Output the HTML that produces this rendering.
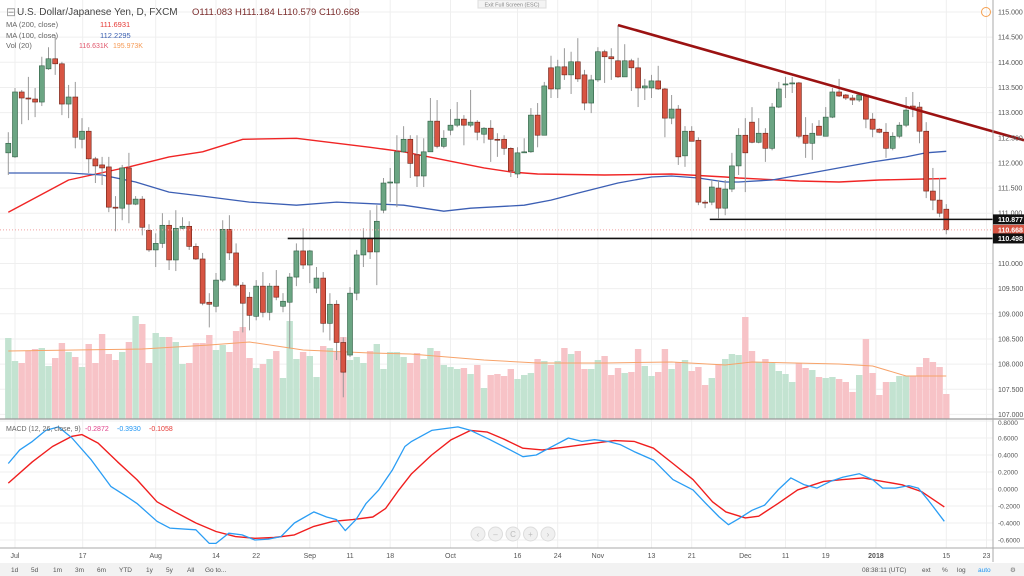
<!DOCTYPE html>
<html><head><meta charset="utf-8"><style>
html,body{margin:0;padding:0;background:#fff;width:1024px;height:576px;overflow:hidden}
svg{display:block;font-family:"Liberation Sans",sans-serif}
</style></head><body>
<svg id="chart" width="1024" height="576" viewBox="0 0 1024 576">
<rect x="0" y="0" width="1024" height="576" fill="#fff"/>
<g id="grid"></g>
<g id="vol"></g>
<g id="lines"></g>
<g id="candles"></g>
<g id="overlay"></g>
<g id="macd"></g>
<g id="axes"></g>
<g id="ui">
  <rect x="478" y="0" width="68" height="8" fill="#f4f4f4" stroke="#ddd"/>
  <text x="512" y="6.5" font-size="5.5" fill="#888" text-anchor="middle">Exit Full Screen (ESC)</text>
  <text x="6" y="16" font-size="12" fill="#999">⊟</text>
  <text x="17" y="15" font-size="10" fill="#444">U.S. Dollar/Japanese Yen, D, FXCM</text>
  <text x="192" y="15" font-size="9.5" fill="#7a2b2b">O111.083  H111.184  L110.579  C110.668</text>
  <text x="6" y="27" font-size="7.5" fill="#666">MA (200, close)</text>
  <text x="100" y="27" font-size="7.5" fill="#e53935">111.6931</text>
  <text x="6" y="38" font-size="7.5" fill="#666">MA (100, close)</text>
  <text x="100" y="38" font-size="7.5" fill="#3a5fb0">112.2295</text>
  <text x="6" y="48" font-size="7.5" fill="#666">Vol (20)</text>
  <text x="79" y="48" font-size="7" fill="#e0566b">116.631K</text>
  <text x="113" y="48" font-size="7" fill="#f59a55">195.973K</text>
  <text x="6" y="431" font-size="7" fill="#666">MACD (12, 26, close, 9)</text>
  <text x="85" y="431" font-size="7" fill="#e0408a">-0.2872</text>
  <text x="117" y="431" font-size="7" fill="#2196f3">-0.3930</text>
  <text x="149" y="431" font-size="7" fill="#e53935">-0.1058</text>
  <circle cx="986" cy="12" r="4.5" fill="none" stroke="#f5a050" stroke-width="1"/>
  <rect x="0" y="563" width="1024" height="13" fill="#f2f2f2"/>
</g>
</svg>
<script>
const opens=[112.20,112.12,113.41,113.29,113.27,113.21,113.87,114.07,113.97,113.17,113.31,112.47,112.63,112.08,111.96,111.92,111.12,111.10,111.90,111.18,111.28,110.66,110.27,110.40,110.76,110.07,110.70,110.74,110.34,110.09,109.23,109.15,109.67,110.68,110.21,109.57,109.33,108.95,109.55,109.03,109.55,109.15,109.23,109.73,110.25,109.97,109.51,109.71,108.81,109.19,108.43,108.18,109.41,110.17,110.50,110.23,111.06,111.60,111.60,112.22,112.47,112.16,111.74,112.22,112.83,112.33,112.65,112.75,112.87,112.75,112.81,112.57,112.69,112.47,112.47,112.29,111.78,112.20,112.22,112.95,112.55,113.89,113.47,113.91,113.75,114.01,113.75,113.19,113.65,114.21,114.11,114.03,113.71,114.03,113.89,113.49,113.49,113.63,113.47,112.89,113.07,112.14,112.63,112.45,111.22,111.22,111.50,111.10,111.48,111.94,112.55,112.81,112.41,112.59,112.29,113.11,113.55,113.57,113.59,112.55,112.39,112.73,112.53,112.91,113.41,113.35,113.29,113.25,113.35,112.87,112.67,112.61,112.29,112.53,112.75,113.13,113.11,112.63,111.44,111.26,111.08];
const highs=[112.61,113.49,113.45,113.71,113.49,114.11,114.30,114.54,114.01,113.55,113.61,112.89,112.71,112.12,112.12,112.12,111.34,111.96,112.20,111.34,111.34,110.78,110.60,111.00,110.86,111.06,110.92,110.84,110.40,110.21,109.41,109.81,110.86,110.96,110.40,109.63,109.43,109.67,109.83,109.61,109.87,109.41,109.81,110.40,110.70,110.27,109.93,109.83,109.41,109.27,108.53,109.53,110.27,110.70,111.06,111.16,111.70,111.90,112.55,112.73,112.55,112.55,112.49,113.29,113.25,112.65,113.07,113.21,112.95,113.45,112.85,112.71,112.85,112.59,112.55,112.31,112.31,112.49,113.09,113.19,113.61,114.13,114.05,114.28,114.21,114.48,113.85,113.75,114.30,114.25,114.28,114.74,114.36,114.07,114.09,113.67,113.75,113.93,113.49,113.35,113.15,112.73,112.73,112.51,111.26,111.66,111.66,111.66,112.20,112.69,112.89,113.11,112.89,112.69,113.19,113.61,113.71,113.71,113.61,112.91,112.79,112.85,113.11,113.49,113.67,113.37,113.35,113.37,113.37,112.99,112.69,112.79,112.61,112.81,113.31,113.41,113.21,112.81,111.90,111.70,111.18];
const lows=[111.76,112.10,112.77,112.85,112.91,113.13,113.85,113.75,112.95,112.89,112.29,112.29,111.80,111.60,111.56,111.02,110.64,110.86,110.80,111.16,110.56,110.23,109.93,110.31,109.87,109.85,110.68,110.27,110.07,109.17,108.73,109.03,109.63,110.07,109.53,108.63,108.67,108.87,108.93,108.87,109.27,109.03,108.31,109.55,109.89,109.61,109.41,108.63,108.47,108.08,107.34,108.14,109.27,109.93,110.09,109.57,111.00,111.22,111.12,112.20,111.70,111.52,111.52,112.22,112.29,112.29,112.55,112.71,112.35,112.71,112.45,112.39,112.02,112.12,112.16,111.72,111.70,112.20,112.20,112.31,112.55,113.29,113.29,113.65,113.37,113.61,113.05,112.99,113.61,113.59,113.65,113.69,113.71,113.43,113.11,113.25,113.29,113.45,112.51,112.77,111.96,111.92,112.43,111.16,111.10,111.16,110.90,110.96,111.42,111.76,111.42,112.39,112.39,112.02,112.25,113.09,113.29,113.39,112.49,112.10,112.06,112.55,112.53,112.89,113.31,113.25,113.15,113.21,112.69,112.51,112.59,112.10,112.25,112.49,112.71,112.91,112.39,111.30,111.06,110.92,110.58];
const closes=[112.39,113.41,113.29,113.27,113.21,113.93,114.07,113.97,113.17,113.31,112.51,112.63,112.08,111.94,111.90,111.12,111.10,111.90,111.18,111.28,110.72,110.27,110.40,110.76,110.07,110.70,110.74,110.34,110.09,109.21,109.19,109.67,110.68,110.21,109.57,109.21,108.97,109.55,109.03,109.55,109.33,109.25,109.73,110.25,109.97,110.25,109.71,108.81,109.19,108.43,107.84,109.41,110.17,110.50,110.23,110.84,111.60,111.62,112.22,112.47,111.99,111.74,112.22,112.83,112.33,112.49,112.75,112.87,112.75,112.81,112.61,112.69,112.47,112.45,112.29,111.84,112.20,112.22,112.95,112.55,113.53,113.47,113.91,113.75,114.01,113.67,113.19,113.65,114.21,114.11,114.07,113.71,114.03,113.89,113.49,113.53,113.63,113.47,112.89,113.07,112.12,112.63,112.43,111.22,111.20,111.52,111.10,111.48,111.94,112.55,112.20,112.41,112.59,112.29,113.11,113.47,113.57,113.59,112.53,112.39,112.59,112.55,112.91,113.41,113.33,113.29,113.25,113.35,112.87,112.67,112.61,112.29,112.53,112.75,113.05,113.09,112.63,111.44,111.26,111.00,110.67];
const volumes=[162,116,112,136,140,142,106,122,152,134,124,104,150,112,170,130,118,134,154,206,190,112,172,164,164,154,110,112,152,152,168,138,148,134,176,184,122,102,110,120,136,82,196,120,134,126,84,146,142,134,164,118,124,112,136,150,100,134,134,124,112,132,120,142,136,108,104,100,102,90,108,62,88,90,86,100,80,88,92,120,116,108,116,142,130,136,100,100,118,126,88,102,92,94,140,106,86,94,140,100,114,118,96,104,68,82,110,120,130,128,204,136,114,120,112,96,90,74,112,102,98,84,82,84,80,74,54,88,160,92,48,74,74,86,86,86,104,122,114,104,50];
const ma200Idx=[0,9,18,24,29,35,43,54,59,71,75,79,89,99,107,109,118,124,130,140];
const ma200Val=[111.02,111.66,111.92,112.12,112.22,112.47,112.49,112.31,112.22,111.90,111.82,111.78,111.76,111.78,111.72,111.70,111.64,111.62,111.66,111.69];
const ma100Idx=[0,9,14,19,24,29,36,43,49,59,65,69,77,81,85,91,96,99,103,107,109,114,119,124,129,134,137,140];
const ma100Val=[111.80,111.80,111.76,111.62,111.42,111.34,111.22,111.16,111.22,111.16,111.04,111.10,111.16,111.26,111.40,111.60,111.72,111.74,111.70,111.62,111.62,111.66,111.78,111.90,112.02,112.12,112.20,112.23];
const volMaIdx=[0,10,20,30,36,44,54,60,71,79,89,99,107,111,124,129,134,140];
const volMaVal=[136,138,140,148,154,138,132,130,118,112,112,114,108,114,110,106,86,86];
const macdIdx=[0,1.7,3.6,5.6,7.5,9.5,12.4,15.3,17.3,19.2,22.2,24.1,28.0,30.0,31.0,32.9,34.9,36.8,38.8,40.7,42.7,45.6,47.5,49.0,50.3,51.9,53.4,55.3,57.3,59.2,60.2,63.2,67.1,69.0,71.9,74.9,76.8,78.8,80.7,83.6,85.6,87.5,89.5,91.4,93.4,96.3,99.2,102.2,104.1,106.1,107.5,109.0,111.0,112.9,114.9,116.8,118.8,120.7,122.7,124.6,127.0,129.0,130.5,132.4,134.4,135.8,137.3,139.7];
const macdVal=[0.30,0.46,0.56,0.69,0.73,0.60,0.34,0.03,-0.07,-0.17,-0.38,-0.46,-0.48,-0.64,-0.64,-0.52,-0.54,-0.60,-0.59,-0.56,-0.40,-0.27,-0.33,-0.36,-0.49,-0.36,-0.17,-0.01,0.22,0.50,0.56,0.69,0.73,0.69,0.58,0.46,0.38,0.40,0.48,0.60,0.56,0.58,0.56,0.52,0.44,0.34,0.11,-0.01,-0.17,-0.33,-0.42,-0.35,-0.25,-0.19,-0.01,0.13,0.05,0.01,0.09,0.14,0.18,0.11,0.01,0.01,0.04,0.01,-0.13,-0.38];
const signalIdx=[0,3.6,6.6,9.5,11.0,13.4,16.3,19.2,22.2,25.1,28.0,31.0,33.9,36.8,39.7,42.7,45.6,48.5,51.4,54.4,56.3,58.3,60.2,63.2,66.1,69.0,71.5,73.9,76.8,79.7,82.7,86.6,90.5,93.4,96.3,99.2,102.2,105.1,107.1,110.0,112.0,114.9,117.8,121.7,124.6,127.6,130.5,133.4,136.3,139.7];
const signalVal=[0.07,0.32,0.50,0.62,0.64,0.54,0.32,0.11,-0.15,-0.28,-0.40,-0.50,-0.56,-0.58,-0.57,-0.54,-0.44,-0.38,-0.36,-0.33,-0.23,-0.01,0.18,0.40,0.58,0.69,0.67,0.59,0.48,0.46,0.49,0.53,0.57,0.56,0.48,0.30,0.11,-0.15,-0.27,-0.34,-0.32,-0.17,-0.01,0.09,0.11,0.13,0.09,0.05,-0.03,-0.21];
const dateLabels=["Jul","17","Aug","14","22","Sep","11","18","Oct","16","24","Nov","13","21","Dec","11","19","2018","15","23"];
const dateIdx=[1,11.1,22,31,37,45,51,57,66,76,82,88,96,102,110,116,122,129.5,140,146];
const priceTicks=[115,114.5,114,113.5,113,112.5,112,111.5,111,110.5,110,109.5,109,108.5,108,107.5,107];
const macdTicks=[0.8,0.6,0.4,0.2,0,-0.2,-0.4,-0.6];
const trendIdx=[91,151.6];
const trendPrice=[114.74,112.45];
const supportIdx=[105,42];
const supportPrice=[110.877,110.498];
const lastPrice=110.668;

const NS="http://www.w3.org/2000/svg";
const X0=8.3, STEP=6.7, AXIS_X=993;
const xOf=i=>X0+i*STEP;
const yP=p=>12+(115-p)*50.3;
const yV=v=>419-v/2;
const yM=v=>489-v*85;
function mk(parent,tag,attrs){const e=document.createElementNS(NS,tag);for(const k in attrs)e.setAttribute(k,attrs[k]);parent.appendChild(e);return e;}
const G=id=>document.getElementById(id);

const grid=G('grid');
priceTicks.forEach(p=>{const l=mk(grid,'line',{x1:0,x2:AXIS_X,y1:yP(p),y2:yP(p),stroke:'#efefef','stroke-width':1});

});
macdTicks.forEach(v=>{const l=mk(grid,'line',{x1:0,x2:AXIS_X,y1:yM(v),y2:yM(v),stroke:'#efefef','stroke-width':1});

});
dateIdx.forEach(i=>{const x=xOf(i);if(x>AXIS_X)return;const l=mk(grid,'line',{x1:x,x2:x,y1:0,y2:548,stroke:'#efefef','stroke-width':1});

});

const vg=G('vol');
volumes.forEach((v,i)=>{const up=closes[i]>=opens[i];const r=mk(vg,'rect',{x:xOf(i)-3.2,y:yV(v),width:6.4,height:419-yV(v),fill:up?'#c3e3d1':'#f7c3c7'});

});

function poly(parent,idx,val,yf,color,w,name){let d='';idx.forEach((i,k)=>{d+=(k?'L':'M')+xOf(i).toFixed(1)+' '+yf(val[k]).toFixed(1);});
const p=mk(parent,'path',{d:d,fill:'none',stroke:color,'stroke-width':w,'stroke-linejoin':'round'});

}
const lg=G('lines');
poly(lg,volMaIdx,volMaVal,yV,'#f7a36a',1,'volume-ma-line');
poly(lg,ma200Idx,ma200Val,yP,'#f02525',1.4,'ma200-line');
poly(lg,ma100Idx,ma100Val,yP,'#3c5fb4',1.3,'ma100-line');

const cg=G('candles');
opens.forEach((o,i)=>{const c=closes[i],up=c>=o,x=xOf(i);
const w=mk(cg,'line',{x1:x,x2:x,y1:yP(highs[i]),y2:yP(lows[i]),stroke:'#9a9a9a','stroke-width':1});


const top=yP(Math.max(o,c)),bot=yP(Math.min(o,c));
const b=mk(cg,'rect',{x:x-2.5,y:top,width:5,height:Math.max(1,bot-top),fill:up?'#6ba583':'#d75442',stroke:up?'#2e5e43':'#6b2318','stroke-width':0.6});

});

const og=G('overlay');
const dl=mk(og,'line',{x1:0,x2:AXIS_X,y1:yP(lastPrice),y2:yP(lastPrice),stroke:'#f0a0a0','stroke-width':1,'stroke-dasharray':'1,2'});


supportIdx.forEach((i,k)=>{const l=mk(og,'line',{x1:xOf(i)-2,x2:AXIS_X,y1:yP(supportPrice[k]),y2:yP(supportPrice[k]),stroke:'#111','stroke-width':1.6});

});
const tl=mk(og,'line',{x1:xOf(trendIdx[0]),y1:yP(trendPrice[0]),x2:xOf(trendIdx[1]),y2:yP(trendPrice[1]),stroke:'#9b1212','stroke-width':2.6});



const mg=G('macd');
const sep=mk(mg,'line',{x1:0,x2:1024,y1:419,y2:419,stroke:'#999','stroke-width':1.2});


poly(mg,signalIdx,signalVal,yM,'#f01e1e',1.4,'signal-line');
poly(mg,macdIdx,macdVal,yM,'#2a9df4',1.3,'macd-line');
['‹','–','C','+','›'].forEach((s,k)=>{const cx=478+k*17.5;
const c=mk(mg,'circle',{cx:cx,cy:534,r:7,fill:'#f0f0f0',stroke:'#ddd'});


const t=mk(mg,'text',{x:cx,y:537,'font-size':8,fill:'#bbb','text-anchor':'middle'});t.textContent=s;

});

const ag=G('axes');
const ax=mk(ag,'line',{x1:AXIS_X,x2:AXIS_X,y1:0,y2:562,stroke:'#aaa','stroke-width':1});


const bx=mk(ag,'line',{x1:0,x2:1024,y1:548,y2:548,stroke:'#aaa','stroke-width':1});


priceTicks.forEach(p=>{const t=mk(ag,'text',{x:998,y:yP(p)+2.5,'font-size':7,fill:'#555'});t.textContent=p.toFixed(3);

});
macdTicks.forEach(v=>{const y=Math.max(yM(v)+2.5,425);const t=mk(ag,'text',{x:998,y:y,'font-size':6.5,fill:'#555'});t.textContent=v.toFixed(4);

});
dateLabels.forEach((d,k)=>{const t=mk(ag,'text',{x:xOf(dateIdx[k]),y:558,'font-size':7,fill:'#555','text-anchor':'middle','font-weight':d==='2018'?'bold':'normal'});t.textContent=d;

});
function tag(p,bg,name){const y=yP(p);const r=mk(ag,'rect',{x:AXIS_X,y:y-5,width:31,height:10,fill:bg});


const t=mk(ag,'text',{x:998,y:y+2.5,'font-size':7,fill:'#fff','font-weight':'bold'});t.textContent=p.toFixed(3);

}
tag(supportPrice[0],'#111','support-price-tag');
tag(lastPrice,'#d75442','last-price-tag');
tag(supportPrice[1],'#111','support-price-tag-2');

const ui=G('ui');
const tb=['1d','5d','1m','3m','6m','YTD','1y','5y','All','Go to...'];
const tbx=[11,31,53,75,97,119,146,166,187,205];
tb.forEach((s,k)=>{const t=mk(ui,'text',{x:tbx[k],y:572,'font-size':6.5,fill:'#555'});t.textContent=s;

});
[['08:38:11 (UTC)',862,'#555'],['ext',922,'#555'],['%',942,'#555'],['log',957,'#555'],['auto',978,'#2196f3'],['⚙',1010,'#777']].forEach(a=>{const t=mk(ui,'text',{x:a[1],y:572,'font-size':6.5,fill:a[2]});t.textContent=a[0];

});
</script>
</body></html>
